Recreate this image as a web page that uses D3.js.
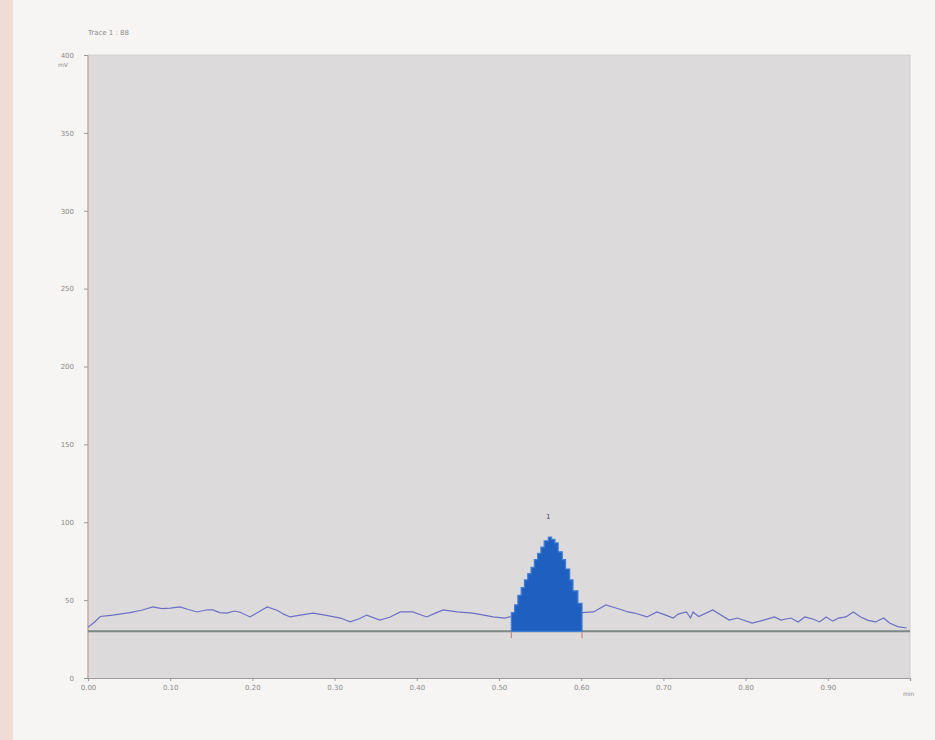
<!DOCTYPE html>
<html>
<head>
<meta charset="utf-8">
<script src="https://cdn.jsdelivr.net/npm/d3@7"></script>
<style>
  html, body { margin: 0; padding: 0; background: #f7f5f3; }
  svg { display: block; }
  text { font-family: "DejaVu Sans", sans-serif; }
</style>
</head>
<body>
<svg id="chart" width="935" height="740"></svg>
<script>
// Chromatogram trace: time (min) and detector signal
const traceTime = [0.000, 0.008, 0.015, 0.030, 0.051, 0.065, 0.079, 0.090, 0.100, 0.112, 0.122, 0.133, 0.145, 0.152, 0.160, 0.169, 0.178, 0.185, 0.197, 0.208, 0.218, 0.230, 0.238, 0.246, 0.260, 0.274, 0.290, 0.307, 0.319, 0.330, 0.339, 0.355, 0.367, 0.380, 0.395, 0.412, 0.422, 0.432, 0.449, 0.468, 0.480, 0.493, 0.507, 0.515];
const traceValue = [32.5, 36.0, 39.5, 40.4, 42.0, 43.5, 45.6, 44.5, 44.9, 45.6, 44.0, 42.4, 43.8, 43.7, 42.0, 41.7, 43.0, 42.2, 39.2, 42.5, 45.6, 43.5, 41.0, 39.2, 40.5, 41.7, 40.2, 38.5, 36.0, 38.0, 40.4, 37.2, 39.0, 42.4, 42.4, 39.2, 41.5, 43.7, 42.4, 41.7, 40.5, 39.2, 38.5, 39.5];

// Peak 1 region (filled)
const peakTime = [0.515, 0.519, 0.523, 0.527, 0.531, 0.535, 0.539, 0.543, 0.547, 0.551, 0.555, 0.560, 0.564, 0.568, 0.572, 0.577, 0.581, 0.586, 0.590, 0.596, 0.601];
const peakValue = [42.0, 47.0, 53.0, 58.0, 63.0, 67.0, 71.0, 76.0, 80.0, 84.0, 88.0, 90.5, 89.0, 86.7, 81.0, 76.0, 70.0, 63.0, 56.0, 48.0, 42.0];

const afterTime = [0.601, 0.615, 0.630, 0.648, 0.657, 0.665, 0.680, 0.692, 0.702, 0.712, 0.718, 0.728, 0.733, 0.736, 0.743, 0.760, 0.780, 0.790, 0.808, 0.822, 0.835, 0.843, 0.855, 0.864, 0.872, 0.881, 0.890, 0.898, 0.906, 0.913, 0.922, 0.931, 0.940, 0.949, 0.958, 0.968, 0.975, 0.985, 0.996];
const afterValue = [42.0, 42.4, 46.9, 44.0, 42.4, 41.7, 39.2, 42.4, 40.5, 38.5, 41.0, 42.4, 38.5, 42.4, 39.5, 43.7, 37.2, 38.5, 35.3, 37.2, 39.2, 37.2, 38.5, 36.0, 39.2, 38.0, 36.0, 39.2, 36.5, 38.5, 39.2, 42.4, 39.2, 37.0, 36.0, 38.5, 35.3, 33.0, 32.1];

const baselineValue = 30;
const peakLabel = "1";

const xTicks = [0.0, 0.1, 0.2, 0.3, 0.4, 0.5, 0.6, 0.7, 0.8, 0.9];
const xTickLabels = ["0.00", "0.10", "0.20", "0.30", "0.40", "0.50", "0.60", "0.70", "0.80", "0.90"];
const yTicks = [0, 50, 100, 150, 200, 250, 300, 350, 400];
const yTickLabels = ["0", "50", "100", "150", "200", "250", "300", "350", "400"];

const titleText = "Trace 1 : 88";
const yUnit = "mV";
const xUnit = "min";

const svg = d3.select("#chart");

// paper edge on the left
svg.append("rect").attr("x", 0).attr("y", 0).attr("width", 13).attr("height", 740).attr("fill", "#efdcd7");

const plot = { left: 88, right: 910, top: 55, bottom: 678 };
const x = d3.scaleLinear().domain([0, 1.0]).range([plot.left, plot.right]);
const y = d3.scaleLinear().domain([0, 400]).range([plot.bottom, plot.top]);

// plot background
svg.append("rect")
  .attr("x", plot.left).attr("y", plot.top)
  .attr("width", plot.right - plot.left).attr("height", plot.bottom - plot.top)
  .attr("fill", "#dcdadb");

// frame
svg.append("line").attr("x1", plot.left).attr("x2", plot.left).attr("y1", plot.top).attr("y2", plot.bottom)
  .attr("stroke", "#c9a9a9").attr("stroke-width", 1.5);
svg.append("line").attr("x1", plot.right).attr("x2", plot.right).attr("y1", plot.top).attr("y2", plot.bottom)
  .attr("stroke", "#cfcccd").attr("stroke-width", 1);
svg.append("line").attr("x1", plot.left).attr("x2", plot.right).attr("y1", plot.top).attr("y2", plot.top)
  .attr("stroke", "#d2cfd0").attr("stroke-width", 1);

// axes
const yAxis = d3.axisLeft(y).tickValues(yTicks).tickFormat((d, i) => yTickLabels[i]).tickSize(4).tickPadding(10);
const gy = svg.append("g").attr("transform", `translate(${plot.left},0)`).call(yAxis);
gy.select(".domain").remove();
gy.selectAll("line").attr("stroke", "#9a9a9a");
gy.selectAll("text").attr("fill", "#8a8a8a").attr("font-size", 7);

const xAxis = d3.axisBottom(x).tickValues(xTicks).tickFormat((d, i) => xTickLabels[i]).tickSize(3).tickPadding(4);
const gx = svg.append("g").attr("transform", `translate(0,${plot.bottom})`).call(xAxis);
gx.select(".domain").attr("stroke", "#9e9c9d").attr("stroke-width", 1.2);
gx.selectAll("line").attr("stroke", "#9a9a9a");
gx.selectAll("text").attr("fill", "#8a8a8a").attr("font-size", 7);

// title and units
svg.append("text").attr("x", 88).attr("y", 35).attr("font-size", 7).attr("fill", "#8a8a8a").text(titleText);
svg.append("text").attr("x", 58).attr("y", 67).attr("font-size", 6).attr("fill", "#8a8a8a").text(yUnit);
svg.append("text").attr("x", 903).attr("y", 696).attr("font-size", 6).attr("fill", "#8a8a8a").text(xUnit);

// baseline
svg.append("line")
  .attr("x1", x(0)).attr("x2", x(1.0)).attr("y1", y(baselineValue)).attr("y2", y(baselineValue))
  .attr("stroke", "#7d8784").attr("stroke-width", 2);

// peak area
const peakPts = peakTime.map((t, i) => [t, peakValue[i]]);
const area = d3.area().x(d => x(d[0])).y0(y(baselineValue)).y1(d => y(d[1])).curve(d3.curveStepAfter);
svg.append("path").datum(peakPts).attr("d", area)
  .attr("fill", "#1f5fbf").attr("stroke", "#3f7fd6").attr("stroke-width", 1.2);

// signal trace
const line = d3.line().x(d => x(d[0])).y(d => y(d[1]));
const before = traceTime.map((t, i) => [t, traceValue[i]]);
const after = afterTime.map((t, i) => [t, afterValue[i]]);
[before, after].forEach(pts => {
  svg.append("path").datum(pts).attr("d", line)
    .attr("fill", "none").attr("stroke", "#6c70c6").attr("stroke-width", 1.2);
});

// peak start/end markers
[peakTime[0], peakTime[peakTime.length - 1]].forEach(t => {
  svg.append("line").attr("x1", x(t)).attr("x2", x(t))
    .attr("y1", y(baselineValue) + 1).attr("y2", y(baselineValue) + 7)
    .attr("stroke", "#d07070").attr("stroke-width", 1);
});

// peak apex label
const apexIdx = d3.maxIndex(peakValue);
svg.append("text").attr("x", x(peakTime[apexIdx])).attr("y", y(peakValue[apexIdx]) - 18)
  .attr("text-anchor", "middle").attr("font-size", 7).attr("fill", "#4a4a5a").text(peakLabel);
</script>
</body>
</html>
